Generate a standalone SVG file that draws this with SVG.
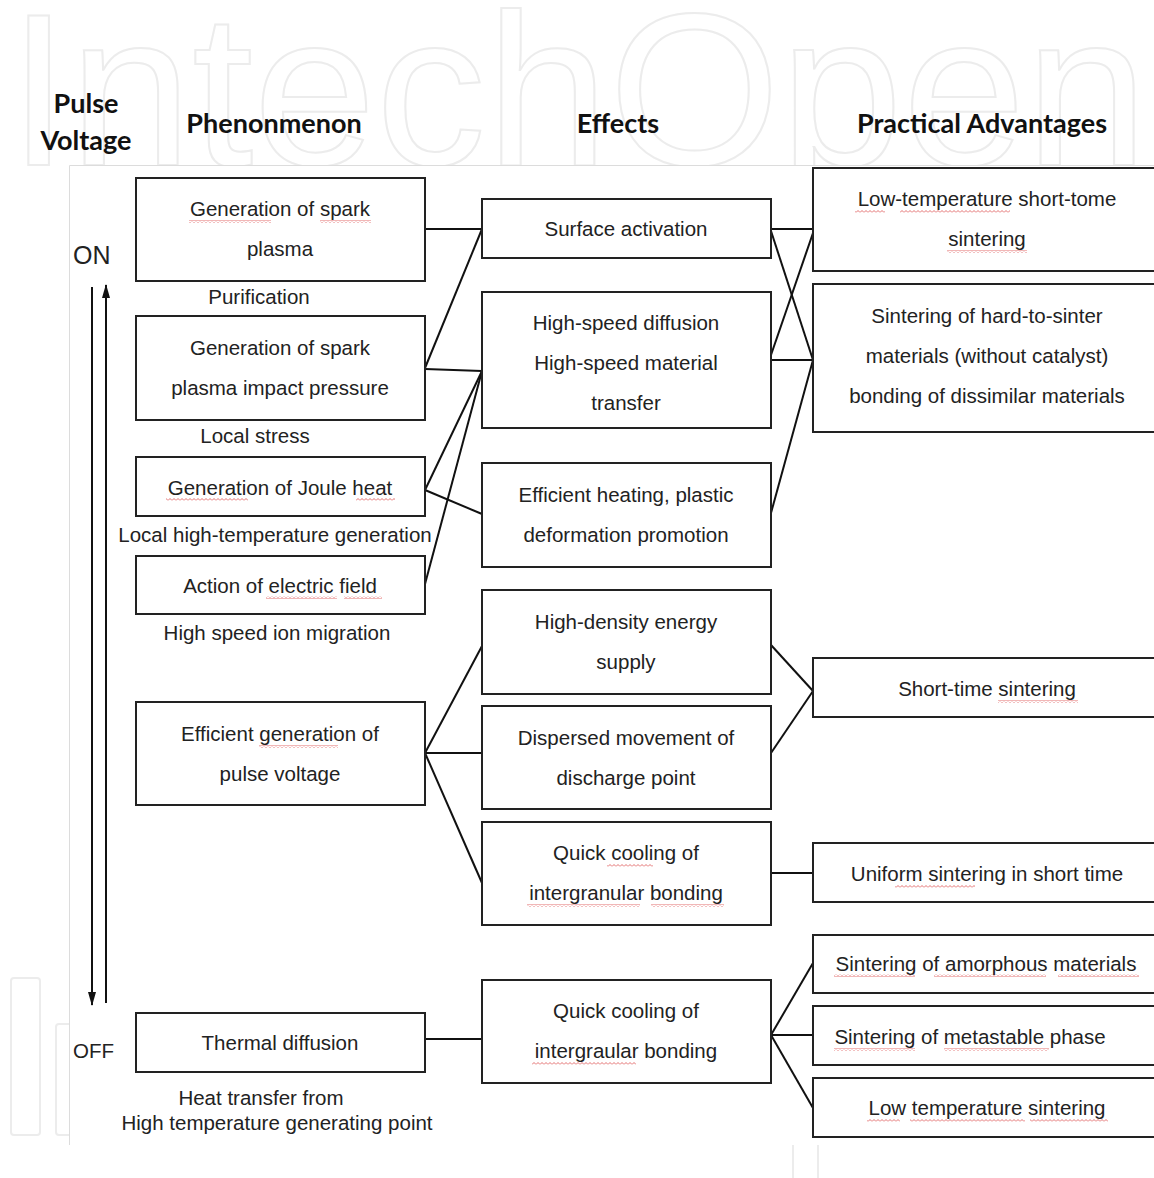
<svg xmlns="http://www.w3.org/2000/svg" width="1154" height="1178" viewBox="0 0 1154 1178">
<style>
.wm{font-family:"Liberation Sans",Arial,sans-serif;font-size:218px;fill:none;stroke:#ececec;stroke-width:2}
.wmr{fill:none;stroke:#ececec;stroke-width:2}
.hd{font-family:Lato,"Liberation Sans",sans-serif;font-weight:bold;font-size:27px;fill:#111}
.box{fill:#fff;stroke:#222;stroke-width:2}
.t{font-family:"Liberation Sans",Arial,sans-serif;font-size:20.5px;fill:#222;text-anchor:middle}
.tl{font-family:"Liberation Sans",Arial,sans-serif;font-size:20.5px;fill:#222}
.c{stroke:#111;stroke-width:2;fill:none}
.sq{fill:url(#sq)}
</style>
<defs>
<pattern id="sq" width="4" height="3" patternUnits="userSpaceOnUse">
<path d="M0,2.5 L2,0.5 L4,2.5" fill="none" stroke="#e06060" stroke-width="0.9"/>
</pattern>
<marker id="ah" viewBox="0 0 14 8" refX="13" refY="4" markerWidth="7" markerHeight="4" orient="auto" markerUnits="strokeWidth">
<path d="M0,0 L14,4 L0,8 z" fill="#111"/>
</marker>
</defs>
<rect width="1154" height="1178" fill="#fff"/>
<g id="watermark">
<text class="wm" x="8" y="165" textLength="1140" lengthAdjust="spacingAndGlyphs">IntechOpen</text>
<rect class="wmr" x="11" y="978" width="29" height="157" rx="3"/>
<rect class="wmr" x="56" y="1024" width="30" height="111" rx="3"/>
<rect class="wmr" x="793" y="1140" width="25" height="50" rx="3"/>
</g>
<rect x="69" y="165" width="1090" height="980" fill="#fff"/>
<path d="M69.5,1145 V165.5 H1154" fill="none" stroke="#dcdcdc" stroke-width="1"/>

<g id="headers">
<text class="hd" x="86" y="113" text-anchor="middle">Pulse</text>
<text class="hd" x="86" y="150" text-anchor="middle">Voltage</text>
<text class="hd" x="274" y="133" text-anchor="middle">Phenonmenon</text>
<text class="hd" x="618" y="133" text-anchor="middle">Effects</text>
<text class="hd" x="982" y="133" text-anchor="middle">Practical Advantages</text>
</g>

<g id="onoff">
<text class="tl" x="73" y="264" style="font-size:25px">ON</text>
<text class="tl" x="73" y="1058">OFF</text>
<line class="c" x1="92" y1="287" x2="92" y2="1005" marker-end="url(#ah)"/>
<line class="c" x1="106" y1="1003" x2="106" y2="285" marker-end="url(#ah)"/>
</g>

<g id="connectors">
<line class="c" x1="425" y1="229" x2="482" y2="229"/>
<line class="c" x1="425" y1="368" x2="482" y2="229"/>
<line class="c" x1="425" y1="369" x2="482" y2="371"/>
<line class="c" x1="425" y1="490" x2="482" y2="371"/>
<line class="c" x1="425" y1="490" x2="482" y2="514"/>
<line class="c" x1="425" y1="584" x2="482" y2="371"/>
<line class="c" x1="771" y1="229" x2="813" y2="229"/>
<line class="c" x1="771" y1="231" x2="813" y2="360"/>
<line class="c" x1="771" y1="355" x2="813" y2="233"/>
<line class="c" x1="771" y1="360" x2="813" y2="360"/>
<line class="c" x1="771" y1="513" x2="813" y2="360"/>
<line class="c" x1="425" y1="753" x2="482" y2="646"/>
<line class="c" x1="425" y1="753" x2="482" y2="753"/>
<line class="c" x1="425" y1="753" x2="482" y2="883"/>
<line class="c" x1="771" y1="645" x2="813" y2="691"/>
<line class="c" x1="771" y1="753" x2="813" y2="691"/>
<line class="c" x1="771" y1="873" x2="813" y2="873"/>
<line class="c" x1="425" y1="1039" x2="482" y2="1039"/>
<line class="c" x1="771" y1="1035" x2="813" y2="963"/>
<line class="c" x1="771" y1="1035" x2="813" y2="1035"/>
<line class="c" x1="771" y1="1035" x2="813" y2="1108"/>
</g>

<g id="L1"><rect class="box" x="136" y="178" width="289" height="103"/>
<text class="t" x="280" y="216">Generation of spark</text><text class="t" x="280" y="256">plasma</text>
<rect class="sq" x="189" y="220" width="82" height="3"/><rect class="sq" x="320" y="220" width="51" height="3"/></g>
<g id="lab-purification"><text class="t" x="259" y="304">Purification</text></g>
<g id="L2"><rect class="box" x="136" y="316" width="289" height="104"/>
<text class="t" x="280" y="355">Generation of spark</text><text class="t" x="280" y="395">plasma impact pressure</text></g>
<g id="lab-stress"><text class="t" x="255" y="443">Local stress</text></g>
<g id="L3"><rect class="box" x="136" y="457" width="289" height="59"/>
<text class="t" x="280" y="495">Generation of Joule heat</text>
<rect class="sq" x="166" y="498" width="82" height="3"/><rect class="sq" x="356" y="498" width="39" height="3"/></g>
<g id="lab-hightemp"><text class="t" x="275" y="542">Local high-temperature generation</text></g>
<g id="L4"><rect class="box" x="136" y="556" width="289" height="58"/>
<text class="t" x="280" y="593">Action of electric field</text>
<rect class="sq" x="266" y="596" width="71" height="3"/><rect class="sq" x="344" y="596" width="38" height="3"/></g>
<g id="lab-ion"><text class="t" x="277" y="640">High speed ion migration</text></g>
<g id="L5"><rect class="box" x="136" y="702" width="289" height="103"/>
<text class="t" x="280" y="741">Efficient generation of</text><text class="t" x="280" y="781">pulse voltage</text>
<rect class="sq" x="259" y="745" width="79" height="3"/></g>
<g id="L6"><rect class="box" x="136" y="1013" width="289" height="59"/>
<text class="t" x="280" y="1050">Thermal diffusion</text></g>
<g id="lab-heat"><text class="t" x="261" y="1105">Heat transfer from</text><text class="t" x="277" y="1130">High temperature generating point</text></g>

<g id="M1"><rect class="box" x="482" y="199" width="289" height="59"/>
<text class="t" x="626" y="236">Surface activation</text></g>
<g id="M2"><rect class="box" x="482" y="292" width="289" height="136"/>
<text class="t" x="626" y="330">High-speed diffusion</text><text class="t" x="626" y="370">High-speed material</text><text class="t" x="626" y="410">transfer</text></g>
<g id="M3"><rect class="box" x="482" y="463" width="289" height="104"/>
<text class="t" x="626" y="502">Efficient heating, plastic</text><text class="t" x="626" y="542">deformation promotion</text></g>
<g id="M4"><rect class="box" x="482" y="590" width="289" height="104"/>
<text class="t" x="626" y="629">High-density energy</text><text class="t" x="626" y="669">supply</text></g>
<g id="M5"><rect class="box" x="482" y="706" width="289" height="103"/>
<text class="t" x="626" y="745">Dispersed movement of</text><text class="t" x="626" y="785">discharge point</text></g>
<g id="M6"><rect class="box" x="482" y="822" width="289" height="103"/>
<text class="t" x="626" y="860">Quick cooling of</text><text class="t" x="626" y="900">intergranular bonding</text>
<rect class="sq" x="607" y="864" width="46" height="3"/><rect class="sq" x="527" y="904" width="113" height="3"/><rect class="sq" x="651" y="904" width="73" height="3"/></g>
<g id="M7"><rect class="box" x="482" y="980" width="289" height="103"/>
<text class="t" x="626" y="1018">Quick cooling of</text><text class="t" x="626" y="1058">intergraular bonding</text>
<rect class="sq" x="532" y="1062" width="104" height="3"/></g>

<g id="R1"><rect class="box" x="813" y="168" width="350" height="103"/>
<text class="t" x="987" y="206">Low-temperature short-tome</text><text class="t" x="987" y="246">sintering</text>
<rect class="sq" x="855" y="210" width="30" height="3"/><rect class="sq" x="900" y="210" width="110" height="3"/><rect class="sq" x="947" y="250" width="80" height="3"/></g>
<g id="R2"><rect class="box" x="813" y="284" width="350" height="148"/>
<text class="t" x="987" y="323">Sintering of hard-to-sinter</text><text class="t" x="987" y="363">materials (without catalyst)</text><text class="t" x="987" y="403">bonding of dissimilar materials</text></g>
<g id="R3"><rect class="box" x="813" y="658" width="350" height="59"/>
<text class="t" x="987" y="696">Short-time sintering</text>
<rect class="sq" x="998" y="700" width="80" height="3"/></g>
<g id="R4"><rect class="box" x="813" y="843" width="350" height="59"/>
<text class="t" x="987" y="881">Uniform sintering in short time</text>
<rect class="sq" x="895" y="885" width="80" height="3"/></g>
<g id="R5"><rect class="box" x="813" y="935" width="350" height="58"/>
<text class="t" x="986" y="971">Sintering of amorphous materials</text>
<rect class="sq" x="834" y="974" width="81" height="3"/><rect class="sq" x="934" y="974" width="112" height="3"/><rect class="sq" x="1058" y="974" width="81" height="3"/></g>
<g id="R6"><rect class="box" x="813" y="1006" width="350" height="59"/>
<text class="t" x="970" y="1044">Sintering of metastable phase</text>
<rect class="sq" x="834" y="1048" width="81" height="3"/><rect class="sq" x="944" y="1048" width="105" height="3"/></g>
<g id="R7"><rect class="box" x="813" y="1078" width="350" height="59"/>
<text class="t" x="987" y="1115">Low temperature sintering</text>
<rect class="sq" x="867" y="1119" width="33" height="3"/><rect class="sq" x="910" y="1119" width="115" height="3"/><rect class="sq" x="1030" y="1119" width="78" height="3"/></g>
</svg>
